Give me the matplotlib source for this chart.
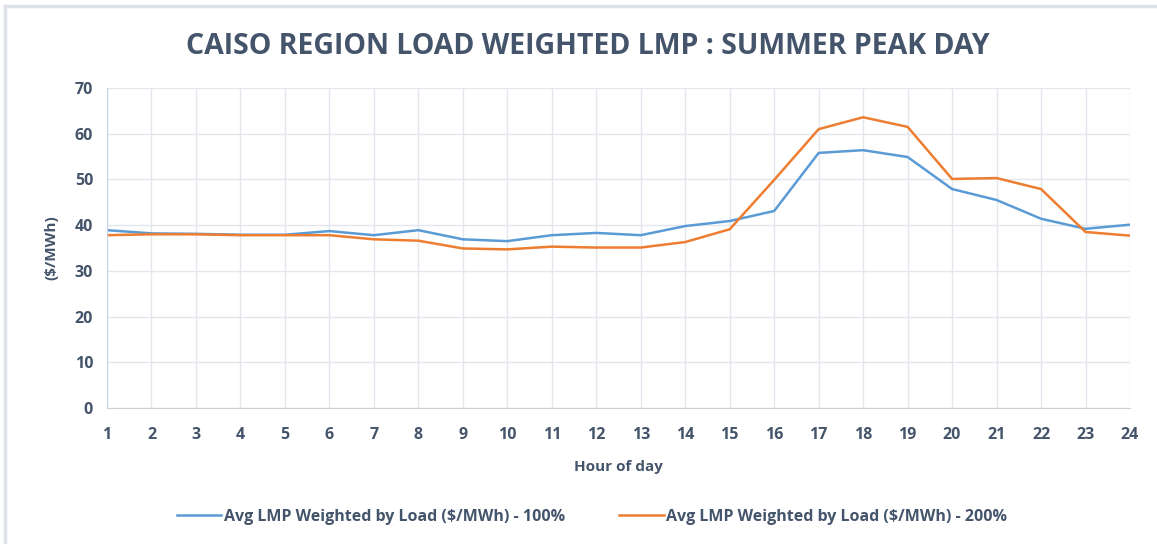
import matplotlib
matplotlib.use("Agg")
import matplotlib.pyplot as plt
from matplotlib.lines import Line2D

# Hourly load weighted LMP ($/MWh), summer peak day
hours = list(range(1, 25))
lmp_100 = [38.9, 38.2, 38.1, 37.9, 37.9, 38.7, 37.8, 38.9, 36.9, 36.5, 37.8, 38.3,
           37.8, 39.8, 40.9, 43.1, 55.8, 56.4, 54.9, 47.9, 45.5, 41.4, 39.2, 40.1]
lmp_200 = [37.8, 38.0, 38.0, 37.8, 37.8, 37.8, 36.9, 36.6, 34.9, 34.7, 35.3, 35.1,
           35.1, 36.3, 39.1, 49.9, 61.0, 63.6, 61.5, 50.1, 50.3, 47.9, 38.5, 37.7]
series_labels = ["Avg LMP Weighted by Load ($/MWh) - 100%",
                 "Avg LMP Weighted by Load ($/MWh) - 200%"]

plt.rcParams['font.family'] = ['Open Sans', 'DejaVu Sans']
text_color = '#44546A'

fig = plt.figure(figsize=(11.57, 5.44), dpi=100)
ax = fig.add_axes([107 / 1157, 1 - 408 / 544, (1130 - 107) / 1157, (408 - 88) / 544])

ax.plot(hours, lmp_100, color='#5B9BD5', linewidth=1.8, label=series_labels[0])
ax.plot(hours, lmp_200, color='#ED7D31', linewidth=1.8, label=series_labels[1])

ax.set_xlim(1, 24)
ax.set_ylim(0, 70)
ax.set_xticks(hours)
ax.set_yticks(range(0, 71, 10))
ax.grid(True, color='#E3E6EC', linewidth=1)
ax.set_axisbelow(True)
ax.tick_params(length=0, labelsize=11.5, labelcolor=text_color)
ax.tick_params(axis='x', pad=14)
ax.tick_params(axis='y', pad=10)
for lbl in ax.get_xticklabels() + ax.get_yticklabels():
    lbl.set_fontweight('bold')

for side in ['top', 'right']:
    ax.spines[side].set_visible(False)
ax.spines['left'].set_color('#C9D3E6')
ax.spines['bottom'].set_color('#D0D0D0')

ax.set_xlabel("Hour of day", fontsize=11, fontweight='bold', color=text_color, labelpad=12)
ax.set_ylabel("($/MWh)", fontsize=11, fontweight='bold', color=text_color, labelpad=12)

fig.text(588 / 1157, 1 - 46 / 544, "CAISO REGION LOAD WEIGHTED LMP : SUMMER PEAK DAY",
         ha='center', va='center', fontsize=20.5, fontweight='bold', color=text_color)

leg = fig.legend(loc='center', bbox_to_anchor=(592 / 1157, 1 - 517 / 544), ncol=2,
                 frameon=False, fontsize=11.5, handlelength=2.8, handletextpad=0.15,
                 columnspacing=3.4, labelcolor=text_color)
for t in leg.get_texts():
    t.set_fontweight('bold')

# light frame on the top and left edges of the chart
fig.add_artist(Line2D([5 / 1157, 5 / 1157], [0, 1 - 6 / 544], transform=fig.transFigure,
                      color='#DFE2E9', linewidth=2.5))
fig.add_artist(Line2D([5 / 1157, 1], [1 - 6 / 544, 1 - 6 / 544], transform=fig.transFigure,
                      color='#DFE2E9', linewidth=2.5))

fig.savefig("out.png", dpi=100)
